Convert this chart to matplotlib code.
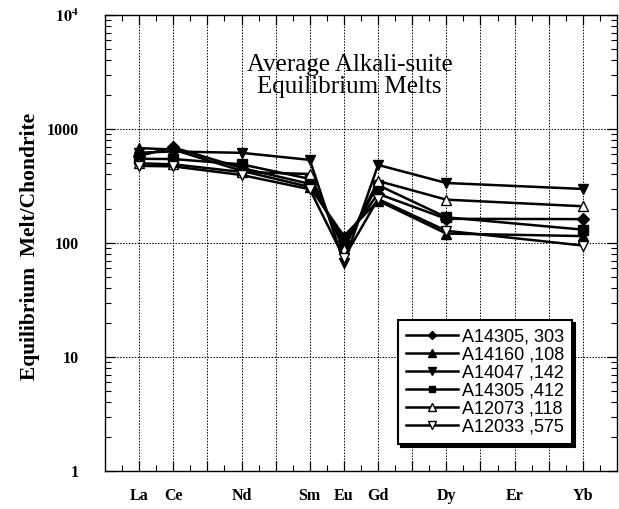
import matplotlib.pyplot as plt
from matplotlib.ticker import FixedLocator, FixedFormatter, LogLocator, NullFormatter

plt.rcParams["mathtext.fontset"] = "stix"

# REE axis: all lanthanides La..Yb, only some labelled
ree_all = ["La", "Ce", "Pr", "Nd", "Pm", "Sm", "Eu", "Gd", "Tb", "Dy", "Ho", "Er", "Tm", "Yb"]
ree_labels = ["La", "Ce", "", "Nd", "", "Sm", "Eu", "Gd", "", "Dy", "", "Er", "", "Yb"]

# elements that carry data
ree_used = ["La", "Ce", "Nd", "Sm", "Eu", "Gd", "Dy", "Yb"]

# equilibrium melt / chondrite
a14305_303 = [580, 690, 455, 330, 105, 270, 163, 162]
a14160_108 = [680, 660, 430, 310, 115, 235, 121, 115]
a14047_142 = [620, 635, 618, 536, 67, 484, 336, 298]
a14305_412 = [548, 545, 490, 365, 95, 322, 168, 131]
a12073_118 = [500, 490, 420, 403, 88, 350, 240, 210]
a12033_575 = [475, 470, 395, 296, 74, 243, 128, 95]

series = [
    ("A14305, 303", a14305_303, "D", "black", 6),
    ("A14160 ,108", a14160_108, "^", "black", 7),
    ("A14047 ,142", a14047_142, "v", "black", 7),
    ("A14305 ,412", a14305_412, "s", "black", 6.5),
    ("A12073 ,118", a12073_118, "^", "white", 7),
    ("A12033 ,575", a12033_575, "v", "white", 7),
]

serif = ["Liberation Serif", "DejaVu Serif"]

fig = plt.figure(figsize=(6.19, 5.09), dpi=100)
ax = fig.add_axes([105 / 619, 38 / 509, 512 / 619, 456 / 509])

xpos = [ree_all.index(e) for e in ree_used]
for name, vals, mk, fc, ms in series:
    ax.plot(xpos, vals, color="black", lw=1.8, marker=mk, ms=ms,
            mfc=fc, mec="black", mew=1.0, label=name)

ax.set_yscale("log")
ax.set_ylim(1, 1e4)
ax.set_xlim(-1, 14)

# x ticks at each element, minor halfway between
ax.xaxis.set_major_locator(FixedLocator(range(len(ree_all))))
ax.xaxis.set_major_formatter(FixedFormatter(ree_labels))
ax.xaxis.set_minor_locator(FixedLocator([i - 0.5 for i in range(len(ree_all) + 1)]))

ax.yaxis.set_major_locator(FixedLocator([1, 10, 100, 1000, 10000]))
ax.yaxis.set_major_formatter(FixedFormatter(["1", "10", "100", "1000",
                                             r"$\mathbf{10}^{\mathbf{4}}$"]))
ax.yaxis.set_minor_locator(LogLocator(base=10, subs=range(2, 10)))
ax.yaxis.set_minor_formatter(NullFormatter())

ax.tick_params(which="both", direction="in", top=True, right=True, color="black")
ax.tick_params(which="major", length=7, width=0.9)
ax.tick_params(which="minor", length=4, width=0.8)
ax.tick_params(axis="x", pad=12)
ax.tick_params(axis="y", pad=19)

for lab in ax.get_xticklabels() + ax.get_yticklabels():
    lab.set_family(serif)
    lab.set_fontweight("bold")
    lab.set_fontsize(11.5)

ax.grid(True, which="major", ls=(0, (1.5, 1.5)), color="black", lw=0.7)
for sp in ax.spines.values():
    sp.set_linewidth(1.0)

fig.text(30 / 619, 1 - 246 / 509, "Equilibrium  Melt/Chondrite", rotation=90,
         ha="center", va="center", family=serif, fontweight="bold", fontsize=15.5)

ax.text(0.478, 0.866, "Average Alkali-suite\nEquilibrium Melts", transform=ax.transAxes,
        ha="center", va="center", family=serif, fontsize=18, linespacing=1.0)

leg = ax.legend(loc="upper left", bbox_to_anchor=(0.572, 0.331), frameon=True,
                fancybox=False, shadow={"color": "black", "alpha": 1.0},
                prop={"family": ["Liberation Sans", "DejaVu Sans"], "size": 13},
                handlelength=2.9, handletextpad=0.2, labelspacing=0.06,
                borderpad=0.45, markerscale=0.75, borderaxespad=0)
leg.get_frame().set_edgecolor("black")
leg.get_frame().set_linewidth(1.5)
leg.get_frame().set_alpha(1.0)

fig.savefig("out.png", dpi=100)
